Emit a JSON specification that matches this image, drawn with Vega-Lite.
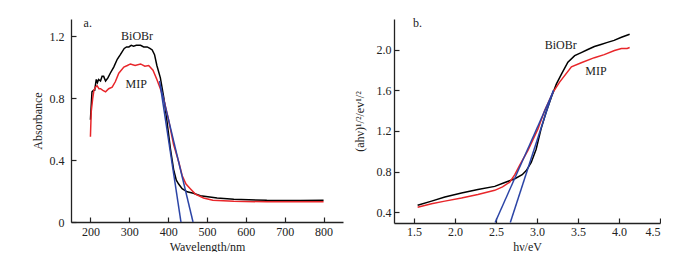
{
  "$schema": "https://vega.github.io/schema/vega-lite/v6.json",
  "padding": {"left": 31, "top": 17, "right": 0, "bottom": 0},
  "spacing": 10,
  "config": {
    "view": {"stroke": null},
    "axis": {
      "domainColor": "#222", "domainWidth": 1.3, "tickColor": "#222", "tickWidth": 1.2,
      "tickSize": -5, "grid": false,
      "labelFont": "Liberation Serif", "labelFontSize": 12, "labelColor": "#222",
      "titleFont": "Liberation Serif", "titleFontSize": 12, "titleFontWeight": "normal", "titleColor": "#222"
    },
    "text": {"font": "Liberation Serif", "fontSize": 12, "color": "#222"}
  },
  "datasets": {
    "a": [
      {"s": "BiOBr", "x": 200, "y": 0.66}, {"s": "BiOBr", "x": 204, "y": 0.84}, {"s": "BiOBr", "x": 208, "y": 0.85},
      {"s": "BiOBr", "x": 211, "y": 0.85}, {"s": "BiOBr", "x": 215, "y": 0.92}, {"s": "BiOBr", "x": 218, "y": 0.9},
      {"s": "BiOBr", "x": 221, "y": 0.92}, {"s": "BiOBr", "x": 226, "y": 0.91}, {"s": "BiOBr", "x": 230, "y": 0.94},
      {"s": "BiOBr", "x": 234, "y": 0.94}, {"s": "BiOBr", "x": 239, "y": 0.91}, {"s": "BiOBr", "x": 245, "y": 0.93},
      {"s": "BiOBr", "x": 251, "y": 0.96}, {"s": "BiOBr", "x": 260, "y": 1.0}, {"s": "BiOBr", "x": 269, "y": 1.05},
      {"s": "BiOBr", "x": 277, "y": 1.08}, {"s": "BiOBr", "x": 287, "y": 1.12}, {"s": "BiOBr", "x": 293, "y": 1.13},
      {"s": "BiOBr", "x": 299, "y": 1.13}, {"s": "BiOBr", "x": 305, "y": 1.14}, {"s": "BiOBr", "x": 311, "y": 1.135},
      {"s": "BiOBr", "x": 318, "y": 1.14}, {"s": "BiOBr", "x": 329, "y": 1.14}, {"s": "BiOBr", "x": 337, "y": 1.13},
      {"s": "BiOBr", "x": 346, "y": 1.13}, {"s": "BiOBr", "x": 353, "y": 1.12}, {"s": "BiOBr", "x": 359, "y": 1.11},
      {"s": "BiOBr", "x": 365, "y": 1.08}, {"s": "BiOBr", "x": 371, "y": 1.01}, {"s": "BiOBr", "x": 380, "y": 0.93},
      {"s": "BiOBr", "x": 389, "y": 0.8}, {"s": "BiOBr", "x": 397, "y": 0.65}, {"s": "BiOBr", "x": 406, "y": 0.47},
      {"s": "BiOBr", "x": 414, "y": 0.34}, {"s": "BiOBr", "x": 421, "y": 0.27}, {"s": "BiOBr", "x": 427, "y": 0.245},
      {"s": "BiOBr", "x": 436, "y": 0.215}, {"s": "BiOBr", "x": 449, "y": 0.195},
      {"s": "BiOBr", "x": 465, "y": 0.185}, {"s": "BiOBr", "x": 483, "y": 0.17}, {"s": "BiOBr", "x": 526, "y": 0.155},
      {"s": "BiOBr", "x": 569, "y": 0.147}, {"s": "BiOBr", "x": 654, "y": 0.14}, {"s": "BiOBr", "x": 740, "y": 0.138},
      {"s": "BiOBr", "x": 800, "y": 0.14},
      {"s": "MIP", "x": 200, "y": 0.55}, {"s": "MIP", "x": 202, "y": 0.71}, {"s": "MIP", "x": 206, "y": 0.8},
      {"s": "MIP", "x": 209, "y": 0.85}, {"s": "MIP", "x": 213, "y": 0.87}, {"s": "MIP", "x": 217, "y": 0.88},
      {"s": "MIP", "x": 222, "y": 0.86}, {"s": "MIP", "x": 226, "y": 0.86}, {"s": "MIP", "x": 232, "y": 0.85},
      {"s": "MIP", "x": 239, "y": 0.84}, {"s": "MIP", "x": 247, "y": 0.86}, {"s": "MIP", "x": 256, "y": 0.87},
      {"s": "MIP", "x": 264, "y": 0.905}, {"s": "MIP", "x": 273, "y": 0.96}, {"s": "MIP", "x": 286, "y": 1.0},
      {"s": "MIP", "x": 295, "y": 1.01}, {"s": "MIP", "x": 303, "y": 1.02}, {"s": "MIP", "x": 315, "y": 1.01},
      {"s": "MIP", "x": 329, "y": 1.02}, {"s": "MIP", "x": 340, "y": 1.005}, {"s": "MIP", "x": 350, "y": 1.01},
      {"s": "MIP", "x": 361, "y": 0.98}, {"s": "MIP", "x": 371, "y": 0.92}, {"s": "MIP", "x": 380, "y": 0.86},
      {"s": "MIP", "x": 389, "y": 0.79}, {"s": "MIP", "x": 401, "y": 0.66}, {"s": "MIP", "x": 414, "y": 0.5},
      {"s": "MIP", "x": 427, "y": 0.39}, {"s": "MIP", "x": 436, "y": 0.3}, {"s": "MIP", "x": 446, "y": 0.245},
      {"s": "MIP", "x": 457, "y": 0.215}, {"s": "MIP", "x": 470, "y": 0.18}, {"s": "MIP", "x": 491, "y": 0.155},
      {"s": "MIP", "x": 515, "y": 0.14},
      {"s": "MIP", "x": 569, "y": 0.134}, {"s": "MIP", "x": 654, "y": 0.13}, {"s": "MIP", "x": 800, "y": 0.13},
      {"s": "fit1", "x": 378, "y": 0.91}, {"s": "fit1", "x": 433, "y": 0},
      {"s": "fit2", "x": 380, "y": 0.88}, {"s": "fit2", "x": 464, "y": 0}
    ],
    "b": [
      {"s": "BiOBr", "x": 1.545, "y": 0.469}, {"s": "BiOBr", "x": 1.715, "y": 0.51}, {"s": "BiOBr", "x": 1.877, "y": 0.55},
      {"s": "BiOBr", "x": 2.08, "y": 0.59}, {"s": "BiOBr", "x": 2.28, "y": 0.625}, {"s": "BiOBr", "x": 2.485, "y": 0.655},
      {"s": "BiOBr", "x": 2.6, "y": 0.69}, {"s": "BiOBr", "x": 2.73, "y": 0.73}, {"s": "BiOBr", "x": 2.82, "y": 0.77},
      {"s": "BiOBr", "x": 2.87, "y": 0.81}, {"s": "BiOBr", "x": 2.93, "y": 0.89}, {"s": "BiOBr", "x": 2.99, "y": 1.02},
      {"s": "BiOBr", "x": 3.05, "y": 1.22}, {"s": "BiOBr", "x": 3.11, "y": 1.38}, {"s": "BiOBr", "x": 3.175, "y": 1.53},
      {"s": "BiOBr", "x": 3.236, "y": 1.66}, {"s": "BiOBr", "x": 3.3, "y": 1.76}, {"s": "BiOBr", "x": 3.377, "y": 1.875},
      {"s": "BiOBr", "x": 3.46, "y": 1.94}, {"s": "BiOBr", "x": 3.54, "y": 1.97}, {"s": "BiOBr", "x": 3.62, "y": 2.0},
      {"s": "BiOBr", "x": 3.7, "y": 2.03}, {"s": "BiOBr", "x": 3.78, "y": 2.05}, {"s": "BiOBr", "x": 3.86, "y": 2.07},
      {"s": "BiOBr", "x": 3.94, "y": 2.09}, {"s": "BiOBr", "x": 4.03, "y": 2.12}, {"s": "BiOBr", "x": 4.13, "y": 2.15},
      {"s": "MIP", "x": 1.545, "y": 0.449}, {"s": "MIP", "x": 1.715, "y": 0.485}, {"s": "MIP", "x": 1.877, "y": 0.51},
      {"s": "MIP", "x": 2.08, "y": 0.54}, {"s": "MIP", "x": 2.28, "y": 0.575}, {"s": "MIP", "x": 2.485, "y": 0.616},
      {"s": "MIP", "x": 2.58, "y": 0.65}, {"s": "MIP", "x": 2.668, "y": 0.697}, {"s": "MIP", "x": 2.73, "y": 0.77},
      {"s": "MIP", "x": 2.79, "y": 0.864}, {"s": "MIP", "x": 2.89, "y": 1.008}, {"s": "MIP", "x": 3.012, "y": 1.22},
      {"s": "MIP", "x": 3.094, "y": 1.4}, {"s": "MIP", "x": 3.195, "y": 1.58}, {"s": "MIP", "x": 3.276, "y": 1.68},
      {"s": "MIP", "x": 3.42, "y": 1.83}, {"s": "MIP", "x": 3.54, "y": 1.87}, {"s": "MIP", "x": 3.7, "y": 1.92},
      {"s": "MIP", "x": 3.82, "y": 1.95}, {"s": "MIP", "x": 3.945, "y": 1.99}, {"s": "MIP", "x": 4.03, "y": 2.01},
      {"s": "MIP", "x": 4.1, "y": 2.01}, {"s": "MIP", "x": 4.13, "y": 2.02},
      {"s": "fit1", "x": 2.49, "y": 0.3}, {"s": "fit1", "x": 3.2, "y": 1.59},
      {"s": "fit2", "x": 2.675, "y": 0.3}, {"s": "fit2", "x": 3.2, "y": 1.6}
    ],
    "la": [
      {"x": 193, "y": 1.284, "t": "a."}, {"x": 320, "y": 1.2, "t": "BiOBr"}, {"x": 318, "y": 0.892, "t": "MIP"}
    ],
    "lb": [
      {"x": 1.545, "y": 2.26, "t": "b."}, {"x": 3.29, "y": 2.04, "t": "BiOBr"}, {"x": 3.72, "y": 1.79, "t": "MIP"}
    ]
  },
  "hconcat": [
    {
      "width": 272, "height": 203,
      "layer": [
        {
          "data": {"name": "a"},
          "mark": {"type": "line", "strokeWidth": 1.5, "clip": true},
          "encoding": {
            "x": {"field": "x", "type": "quantitative", "scale": {"domain": [150, 850], "nice": false, "zero": false},
              "axis": {"title": "Wavelength/nm", "values": [200,250,300,350,400,450,500,550,600,650,700,750,800],
                "labelExpr": "datum.value % 100 === 0 ? datum.label : ''", "labelPadding": 9, "titlePadding": 4}},
            "y": {"field": "y", "type": "quantitative", "scale": {"domain": [0, 1.31], "nice": false},
              "axis": {"title": "Absorbance", "values": [0,0.2,0.4,0.6,0.8,1.0,1.2], "format": ".1~f",
                "labelExpr": "round(datum.value*10) % 4 === 0 ? datum.label : ''", "labelPadding": 12, "titlePadding": 5}},
            "color": {"field": "s", "type": "nominal", "legend": null,
              "scale": {"domain": ["BiOBr", "MIP", "fit1", "fit2"], "range": ["#000000", "#e8262a", "#2b44a6", "#2b44a6"]}},
            "strokeWidth": {"field": "s", "type": "nominal", "legend": null,
              "scale": {"domain": ["BiOBr", "MIP", "fit1", "fit2"], "range": [1.6, 1.4, 1, 1]}}
          }
        },
        {
          "data": {"name": "la"},
          "mark": {"type": "text", "align": "center", "baseline": "middle"},
          "encoding": {
            "x": {"field": "x", "type": "quantitative"},
            "y": {"field": "y", "type": "quantitative"},
            "text": {"field": "t"}
          }
        }
      ]
    },
    {
      "width": 266, "height": 204,
      "layer": [
        {
          "data": {"name": "b"},
          "mark": {"type": "line", "strokeWidth": 1.5, "clip": true},
          "encoding": {
            "x": {"field": "x", "type": "quantitative", "scale": {"domain": [1.257, 4.5], "nice": false, "zero": false},
              "axis": {"title": "hν/eV", "values": [1.5,1.75,2,2.25,2.5,2.75,3,3.25,3.5,3.75,4,4.25,4.5], "format": ".1f",
                "labelExpr": "round(datum.value*100) % 50 === 0 ? datum.label : ''", "labelPadding": 8, "titlePadding": 4}},
            "y": {"field": "y", "type": "quantitative", "scale": {"domain": [0.295, 2.3], "nice": false, "zero": false},
              "axis": {"title": "(ahν)¹/²/ev¹/²", "values": [0.4,0.6,0.8,1.0,1.2,1.4,1.6,1.8,2.0,2.2], "format": ".1f",
                "labelExpr": "round(datum.value*10) % 4 === 0 ? datum.label : ''", "labelPadding": 8, "titlePadding": 10}},
            "color": {"field": "s", "type": "nominal", "legend": null,
              "scale": {"domain": ["BiOBr", "MIP", "fit1", "fit2"], "range": ["#000000", "#e8262a", "#2b44a6", "#2b44a6"]}},
            "strokeWidth": {"field": "s", "type": "nominal", "legend": null,
              "scale": {"domain": ["BiOBr", "MIP", "fit1", "fit2"], "range": [1.6, 1.4, 1, 1]}}
          }
        },
        {
          "data": {"name": "lb"},
          "mark": {"type": "text", "align": "center", "baseline": "middle"},
          "encoding": {
            "x": {"field": "x", "type": "quantitative"},
            "y": {"field": "y", "type": "quantitative"},
            "text": {"field": "t"}
          }
        }
      ]
    }
  ]
}
